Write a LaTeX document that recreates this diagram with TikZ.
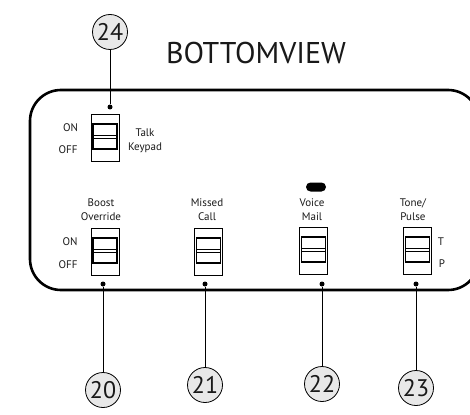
\documentclass[tikz,border=0pt]{standalone}
\usepackage{fontspec}
\setmainfont{PT Sans}

\begin{document}
\begin{tikzpicture}[x=1pt, y=-1pt, every node/.style={font=\fontsize{11}{14}\selectfont, inner sep=0pt, text=black!90},
	callout/.style={circle, draw, line width=0.8pt, fill=gray!18, minimum size=35pt, font=\fontsize{24}{24}\selectfont},
	switchbody/.style={draw, line width=0.7pt, minimum width=28pt, minimum height=47pt, path picture={
		\draw[line width=1.5pt] ([shift={(-12pt,-11pt)}]path picture bounding box.center) rectangle ([shift={(12pt,14pt)}]path picture bounding box.center);
		\draw[line width=0.7pt] ([shift={(-12pt,3pt)}]path picture bounding box.center) -- ([shift={(12pt,3pt)}]path picture bounding box.center);
		\draw[line width=0.7pt] ([shift={(-12pt,0pt)}]path picture bounding box.center) -- ([shift={(12pt,0pt)}]path picture bounding box.center);}},
	pin/.style={circle, fill, minimum size=5pt},
	leader/.style={line width=0.8pt}]
	\useasboundingbox (0,0) rectangle (470,414);
	\draw[line width=2.6pt, rounded corners=31pt] (30,90) rectangle (479,290);
	\node[font=\fontsize{30}{30}\selectfont] (title) at (256,53) {BOTTOMVIEW};
	\node[switchbody] (talk) at (105,138) {};
	\node[switchbody] (boost) at (105,252) {};
	\node[switchbody] (missed) at (208.5,252) {};
	\node[switchbody] (voice) at (313.5,251) {};
	\node[switchbody] (tone) at (417.5,251) {};
	\node (talkon) at (70.5,128) {ON};
	\node (talkoff) at (68,150) {OFF};
	\node[align=center] (talklbl) at (145,141) {Talk\\Keypad};
	\node (booston) at (70,241.5) {ON};
	\node (boostoff) at (68,265) {OFF};
	\node[align=center] (boostlbl) at (101,210) {Boost\\Override};
	\node[align=center] (missedlbl) at (207,210) {Missed\\Call};
	\node[align=center] (voicelbl) at (312,210) {Voice\\Mail};
	\node[align=center] (tonelbl) at (413,210) {Tone/\\Pulse};
	\node (tonet) at (441,241.5) {T};
	\node (tonep) at (442,264) {P};
	\node[fill, rounded corners=4.5pt, minimum width=20pt, minimum height=9pt] (led) at (316,187) {};
	\node[pin] (d24) at (110,107) {};
	\node[pin] (d20) at (103,284) {};
	\node[pin] (d21) at (205,284) {};
	\node[pin] (d22) at (322,284) {};
	\node[pin] (d23) at (416,284) {};
	\node[callout] (c24) at (110,32) {24};
	\node[callout] (c20) at (103,390) {20};
	\node[callout] (c21) at (205,385) {21};
	\node[callout] (c22) at (322,384) {22};
	\node[callout] (c23) at (416,388) {23};
	\draw[leader] (c24) -- (d24);
	\draw[leader] (c20) -- (d20);
	\draw[leader] (c21) -- (d21);
	\draw[leader] (c22) -- (d22);
	\draw[leader] (c23) -- (d23);
\end{tikzpicture}
\end{document}
